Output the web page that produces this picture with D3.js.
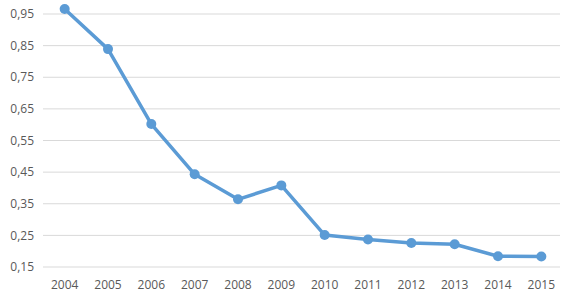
<!DOCTYPE html>
<html>
<head>
<meta charset="utf-8">
<script src="https://cdn.jsdelivr.net/npm/d3@7"></script>
<style>
  body { margin: 0; background: #fff; }
  svg text { font-family: "Open Sans", "Liberation Sans", sans-serif; font-size: 12px; fill: #595959; }
</style>
</head>
<body>
<svg id="chart" width="567" height="293"></svg>
<script>
// data
const years = ["2004", "2005", "2006", "2007", "2008", "2009", "2010", "2011", "2012", "2013", "2014", "2015"];
const values = [0.966, 0.839, 0.602, 0.443, 0.364, 0.408, 0.251, 0.237, 0.226, 0.222, 0.184, 0.183];
const yTicks = [0.15, 0.25, 0.35, 0.45, 0.55, 0.65, 0.75, 0.85, 0.95];

const svg = d3.select("#chart");
const plotLeft = 43, plotRight = 563, plotTop = 14, plotBottom = 267;

const x = d3.scaleBand().domain(years).range([plotLeft, plotRight]);
const y = d3.scaleLinear().domain([0.15, 0.95]).range([plotBottom, plotTop]);

// gridlines
svg.append("g")
    .selectAll("line")
    .data(yTicks)
    .enter()
    .append("line")
    .attr("x1", plotLeft)
    .attr("x2", plotRight - 3)
    .attr("y1", d => y(d))
    .attr("y2", d => y(d))
    .attr("stroke", "#d9d9d9")
    .attr("stroke-width", 1);

// y labels
svg.append("g")
    .selectAll("text")
    .data(yTicks)
    .enter()
    .append("text")
    .attr("x", 34)
    .attr("y", d => y(d))
    .attr("dy", "0.35em")
    .attr("text-anchor", "end")
    .text(d => d.toFixed(2).replace(".", ","));

// x labels
svg.append("g")
    .selectAll("text")
    .data(years)
    .enter()
    .append("text")
    .attr("x", d => x(d) + x.bandwidth() / 2)
    .attr("y", 285)
    .attr("dy", "0.35em")
    .attr("text-anchor", "middle")
    .text(d => d);

const pts = years.map((yr, i) => [x(yr) + x.bandwidth() / 2, y(values[i])]);

svg.append("path")
    .attr("d", d3.line()(pts))
    .attr("fill", "none")
    .attr("stroke", "#5b9bd5")
    .attr("stroke-width", 3.5)
    .attr("stroke-linejoin", "round");

svg.append("g")
    .selectAll("circle")
    .data(pts)
    .enter()
    .append("circle")
    .attr("cx", d => d[0])
    .attr("cy", d => d[1])
    .attr("r", 5)
    .attr("fill", "#5b9bd5");
</script>
</body>
</html>
